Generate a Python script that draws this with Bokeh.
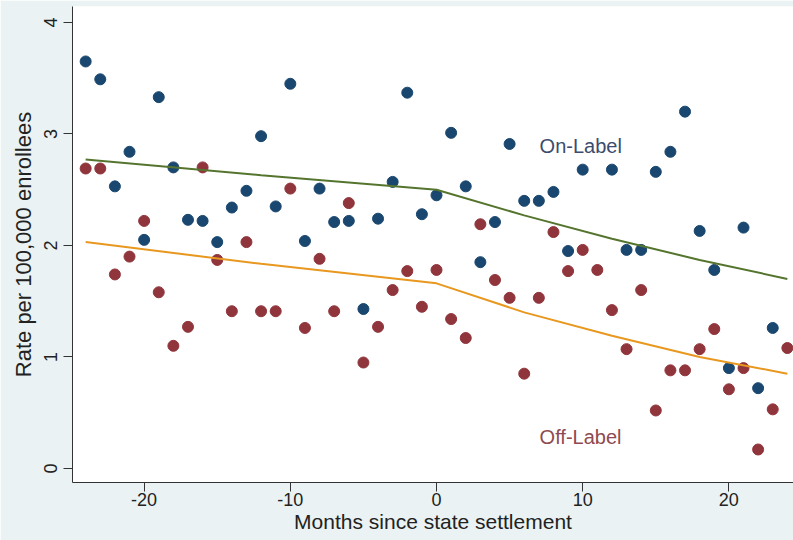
from bokeh.plotting import figure
from bokeh.models import Range1d, ColumnDataSource, Label, FixedTicker
from bokeh.embed import file_html
from bokeh.resources import INLINE

nan = float("nan")

months = list(range(-24, 25))
on_label = [3.65, 3.49, 2.53, 2.84, 2.05, 3.33, 2.70, 2.23, 2.22, 2.03,
            2.34, 2.49, 2.98, 2.35, 3.45, 2.04, 2.51, 2.21, 2.22, 1.43,
            2.24, 2.57, 3.37, 2.28, 2.45, 3.01, 2.53, 1.85, 2.21, 2.91,
            2.40, 2.40, 2.48, 1.95, 2.68, nan, 2.68, 1.96, 1.96, 2.66,
            2.84, 3.20, 2.13, 1.78, 0.90, 2.16, 0.72, 1.26, nan]
off_label = [2.69, 2.69, 1.74, 1.90, 2.22, 1.58, 1.10, 1.27, 2.70, 1.87,
             1.41, 2.03, 1.41, 1.41, 2.51, 1.26, 1.88, 1.41, 2.38, 0.95,
             1.27, 1.60, 1.77, 1.45, 1.78, 1.34, 1.17, 2.19, 1.69, 1.53,
             0.85, 1.53, 2.12, 1.77, 1.96, 1.78, 1.42, 1.07, 1.60, 0.52,
             0.88, 0.88, 1.07, 1.25, 0.71, 0.90, 0.17, 0.53, 1.08]

fit_months = [-24, -12, 0, 6, 12, 18, 24]
on_fit = [2.77, 2.63, 2.50, 2.27, 2.06, 1.87, 1.70]
off_fit = [2.03, 1.835, 1.66, 1.40, 1.19, 1.00, 0.85]

x_ticks = [-20, -10, 0, 10, 20]
x_tick_labels = ["-20", "-10", "0", "10", "20"]
y_ticks = [0, 1, 2, 3, 4]

FONT = "Liberation Sans"

p = figure(width=793, height=540, output_backend="svg", toolbar_location=None,
           x_range=Range1d(-24.9, 24.42), y_range=Range1d(-0.126, 4.143),
           min_border_left=72, min_border_right=0, min_border_top=6,
           min_border_bottom=58)

p.background_fill_color = "white"
p.border_fill_color = "#eaf2f3"
p.outline_line_color = None
p.grid.visible = False

src = ColumnDataSource(dict(m=months, on=on_label, off=off_label))
p.scatter("m", "on", source=src, size=11, fill_color="#1a476f",
          line_color="#1a476f")
p.scatter("m", "off", source=src, size=11, fill_color="#90353b",
          line_color="#90353b")

fsrc = ColumnDataSource(dict(m=fit_months, on=on_fit, off=off_fit))
p.line("m", "on", source=fsrc, line_color="#55752f", line_width=2)
p.line("m", "off", source=fsrc, line_color="#e8981f", line_width=2)

p.add_layout(Label(x=7.05, y=2.89, text="On-Label", text_font=FONT,
                   text_font_size="20px", text_color="#3b4c6e",
                   text_baseline="middle"))
p.add_layout(Label(x=7.05, y=0.28, text="Off-Label", text_font=FONT,
                   text_font_size="20px", text_color="#8e4a50",
                   text_baseline="middle"))

for ax in (p.xaxis[0], p.yaxis[0]):
    ax.axis_line_color = "#333333"
    ax.major_tick_line_color = "#333333"
    ax.major_tick_out = 9
    ax.major_tick_in = 0
    ax.minor_tick_line_color = None
    ax.major_label_text_font = FONT
    ax.major_label_text_font_size = "18px"
    ax.major_label_text_color = "#222222"
    ax.axis_label_text_font = FONT
    ax.axis_label_text_font_style = "normal"
    ax.axis_label_text_color = "#222222"

p.xaxis.axis_label_text_font_size = "21px"
p.yaxis.axis_label_text_font_size = "22px"
p.xaxis.ticker = FixedTicker(ticks=x_ticks)
p.xaxis.major_label_overrides = dict(zip(x_ticks, x_tick_labels))
p.yaxis.ticker = FixedTicker(ticks=y_ticks)
p.xaxis.axis_label = "Months since state settlement"
p.yaxis.axis_label = "Rate per 100,000 enrollees"
p.yaxis.major_label_orientation = "vertical"
p.xaxis.major_label_standoff = 1
p.xaxis.axis_label_standoff = 1
p.yaxis.major_label_standoff = 6
p.yaxis.axis_label_standoff = 6

open("out.html", "w").write(file_html(p, INLINE))
